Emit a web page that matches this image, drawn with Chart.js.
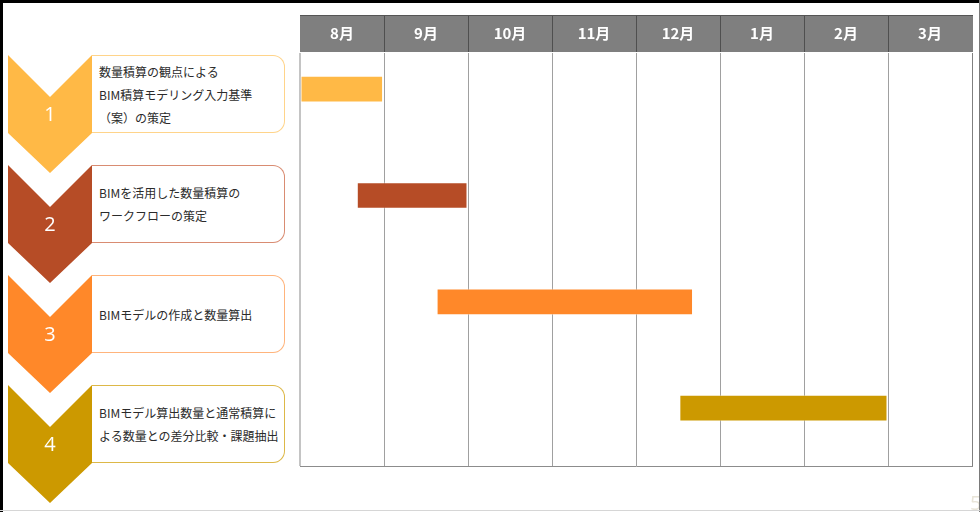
<!DOCTYPE html>
<html><head><meta charset="utf-8">
<script src="https://cdn.jsdelivr.net/npm/chart.js@4/dist/chart.umd.min.js"></script>
<style>
html,body{margin:0;padding:0;background:#fff;overflow:hidden;}
#wrap{position:relative;width:980px;height:512px;overflow:hidden;font-family:"Noto Sans CJK JP","Noto Sans",sans-serif;}
#c{position:absolute;left:0;top:0;}
.chev{position:absolute;left:8px;width:84px;height:118px;clip-path:polygon(0 0,42px 42px,84px 0,84px 78px,42px 118px,0 78px);}
.num{position:absolute;left:8px;width:84px;text-align:center;color:#fff;font-family:"Open Sans",sans-serif;font-size:20px;line-height:24px;}
.box{position:absolute;left:92px;width:193px;height:78px;box-sizing:border-box;border:1px solid;border-left:none;border-radius:0 12px 12px 0;display:flex;align-items:center;padding-left:7px;font-size:12px;line-height:23px;color:#2b2b2b;white-space:nowrap;background:#fff;}
.edge{position:absolute;z-index:5;pointer-events:none;}
#pg{position:absolute;left:970px;top:489px;font-family:"Open Sans",sans-serif;font-size:20px;color:#e8e4d8;}
</style>
</head><body>
<div id="wrap">
<canvas id="c" width="980" height="512"></canvas>
<div id="pg">5</div>
<div class="edge" style="left:0;top:0;width:980px;height:3px;background:#000;"></div>
<div class="edge" style="left:0;top:0;width:3px;height:512px;background:#000;"></div>
<div class="edge" style="left:979px;top:0;width:1px;height:512px;background:#7a7a7a;"></div>
<div class="edge" style="left:0;top:510px;width:980px;height:1px;background:#d6d6d6;"></div>
</div>
<script>
// ---- data ----
const months = ['8月','9月','10月','11月','12月','1月','2月','3月'];
const stepNumbers = ['1','2','3','4'];
const stepLabels = [
  ['数量積算の観点による','BIM積算モデリング入力基準','（案）の策定'],
  ['BIMを活用した数量積算の','ワークフローの策定'],
  ['BIMモデルの作成と数量算出'],
  ['BIMモデル算出数量と通常積算に','よる数量との差分比較・課題抽出']
];
const rowIndex = [0, 1, 2, 3];
const startMonth = [0.01, 0.68, 1.63, 4.52];
const endMonth = [0.985, 1.99, 4.675, 6.99];
const stepColors = ['#FFB946', '#B64C26', '#FF8829', '#CC9900'];
const boxBorderColors = ['#FFD48A', '#D98C72', '#FFB47C', '#DDB848'];

// ---- left step panel ----
const wrap = document.getElementById('wrap');
stepNumbers.forEach((n, i) => {
  const top = 55 + 110 * i;
  const ch = document.createElement('div');
  ch.className = 'chev'; ch.style.top = top + 'px'; ch.style.background = stepColors[i];
  wrap.appendChild(ch);
  const num = document.createElement('div');
  num.className = 'num'; num.style.top = (top + 47) + 'px'; num.textContent = n;
  wrap.appendChild(num);
  const bx = document.createElement('div');
  bx.className = 'box'; bx.style.top = top + 'px'; bx.style.borderColor = boxBorderColors[i];
  bx.innerHTML = '<div>' + stepLabels[i].join('<br>') + '</div>';
  wrap.appendChild(bx);
});

// ---- chart ----
const headerPlugin = {
  id: 'header',
  beforeDraw(chart) {
    const ctx = chart.ctx, x = chart.scales.x, m = chart.scales.xm;
    ctx.save();
    ctx.fillStyle = '#7f7f7f';
    ctx.fillRect(x.left, m.top, x.right - x.left + 1, m.bottom - m.top);
    ctx.strokeStyle = '#4f4f4f';
    ctx.lineWidth = 1;
    for (let i = 1; i < months.length; i++) {
      const px = Math.round(x.getPixelForValue(i)) + 0.5;
      ctx.beginPath(); ctx.moveTo(px, m.top); ctx.lineTo(px, m.bottom); ctx.stroke();
    }
    ctx.restore();
  }
};

new Chart(document.getElementById('c'), {
  type: 'bar',
  data: {
    datasets: [{
      data: rowIndex.map((r, i) => ({ y: r, x: [startMonth[i], endMonth[i]] })),
      backgroundColor: stepColors,
      borderColor: 'rgba(255,255,255,0.35)',
      borderWidth: 1,
      borderSkipped: false,
      barThickness: 26,
      xAxisID: 'x',
      yAxisID: 'y'
    }]
  },
  options: {
    indexAxis: 'y',
    responsive: false,
    animation: false,
    devicePixelRatio: 1,
    layout: { padding: { left: 300, right: 8, top: 15, bottom: 46 } },
    plugins: { legend: { display: false }, tooltip: { enabled: false } },
    scales: {
      y: {
        type: 'linear', display: false, reverse: true, offset: false,
        min: -0.349, max: 3.544, grid: { offset: false }
      },
      xm: {
        type: 'category', labels: months, position: 'top', offset: true,
        grid: { display: false, drawTicks: false }, border: { display: false },
        ticks: { color: '#ffffff', font: { family: '"Noto Sans CJK JP", sans-serif', size: 15, weight: 'bold' }, padding: 10, maxRotation: 0, autoSkip: false },
        afterFit(s) { s.height = 37; }
      },
      x: {
        type: 'linear', position: 'top', min: 0, max: 8, offset: false,
        ticks: { display: false, stepSize: 1 },
        grid: {
          drawTicks: false,
          color: (c) => c.index === 0 ? '#c4c4c4' : (c.index === 8 ? '#808080' : '#a0a0a0'),
          lineWidth: (c) => c.index === 0 ? 2 : 1
        },
        border: { display: true, color: '#555555', width: 1 },
        afterFit(s) { s.height = 0; }
      },
      xb: {
        type: 'linear', position: 'bottom', min: 0, max: 8,
        ticks: { display: false }, grid: { display: false, drawTicks: false },
        border: { display: true, color: '#8c8c8c', width: 1 },
        afterFit(s) { s.height = 0; }
      }
    }
  },
  plugins: [headerPlugin]
});
</script>
</body></html>
